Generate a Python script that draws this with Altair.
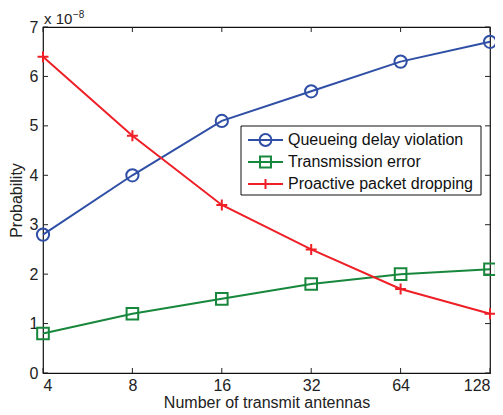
import altair as alt
import pandas as pd

antennas = [4, 8, 16, 32, 64, 128]
queue_delay = [2.8, 4.0, 5.1, 5.7, 6.3, 6.7]
trans_error = [0.8, 1.2, 1.5, 1.8, 2.0, 2.1]
proactive_drop = [6.4, 4.8, 3.4, 2.5, 1.7, 1.2]
series_names = ["Queueing delay violation", "Transmission error", "Proactive packet dropping"]
series_colors = ["#2F4FA6", "#17873C", "#EE1F26"]
y_ticks = [0, 1, 2, 3, 4, 5, 6, 7]

rows = []
for name, vals in zip(series_names, [queue_delay, trans_error, proactive_drop]):
    for a, v in zip(antennas, vals):
        rows.append({"Antennas": a, "Prob": v, "Series": name})
df = pd.DataFrame(rows)
legend_df = pd.DataFrame({"Series": series_names})

FONT = "Liberation Sans"
FS = 16
W, H = 447, 346
TOP = 19

xscale = alt.Scale(type="log", base=2, domain=[4, 128], nice=False)
yscale = alt.Scale(domain=[0, 7], nice=False)

plus = "M-1,0L1,0M0,-1L0,1"
shape_scale = alt.Scale(domain=series_names, range=["circle", "square", plus])
size_scale = alt.Scale(domain=series_names, range=[150, 120, 190])
color_scale = alt.Scale(domain=series_names, range=series_colors)

base = alt.Chart(df)

lines = base.mark_line(strokeWidth=2).encode(
    x=alt.X("Antennas:Q", scale=xscale,
            axis=alt.Axis(values=antennas, format="d", title="Number of transmit antennas",
                          tickSize=0, labelPadding=4, domain=False, grid=False,
                          labelFont=FONT, labelFontSize=FS, labelColor="#222",
                          titleFont=FONT, titleFontSize=FS, titleFontWeight="normal",
                          titleColor="#222", titlePadding=1)),
    y=alt.Y("Prob:Q", scale=yscale,
            axis=alt.Axis(values=y_ticks, title="Probability", tickSize=0, labelPadding=5,
                          domain=False, grid=False,
                          labelFont=FONT, labelFontSize=FS, labelColor="#222",
                          titleFont=FONT, titleFontSize=FS, titleFontWeight="normal",
                          titleColor="#222", titlePadding=5)),
    color=alt.Color("Series:N", scale=color_scale, legend=None),
)

points = base.mark_point(filled=False, strokeWidth=2, opacity=1).encode(
    x=alt.X("Antennas:Q", scale=xscale),
    y=alt.Y("Prob:Q", scale=yscale),
    color=alt.Color("Series:N", scale=color_scale, legend=None),
    shape=alt.Shape("Series:N", scale=shape_scale, legend=None),
    size=alt.Size("Series:N", scale=size_scale, legend=None),
)

xt = pd.DataFrame({"v": antennas})
yt = pd.DataFrame({"v": y_ticks})
tick_col = "#222"
xb = alt.Chart(xt).mark_rule(color=tick_col, strokeWidth=1).encode(
    x=alt.X("v:Q", scale=xscale), y=alt.value(H), y2=alt.value(H - 5))
xtop = alt.Chart(xt).mark_rule(color=tick_col, strokeWidth=1).encode(
    x=alt.X("v:Q", scale=xscale), y=alt.value(0), y2=alt.value(5))
yl = alt.Chart(yt).mark_rule(color=tick_col, strokeWidth=1).encode(
    y=alt.Y("v:Q", scale=yscale), x=alt.value(0), x2=alt.value(5))
yr = alt.Chart(yt).mark_rule(color=tick_col, strokeWidth=1).encode(
    y=alt.Y("v:Q", scale=yscale), x=alt.value(W), x2=alt.value(W - 5))

exp_df = pd.DataFrame({"t": ["x 10"], "s": ["\u22128"]})
exp_main = alt.Chart(exp_df).mark_text(align="left", baseline="alphabetic", font=FONT,
                                        fontSize=15, color="#222").encode(
    text="t:N", x=alt.value(1), y=alt.value(-3))
exp_sup = alt.Chart(exp_df).mark_text(align="left", baseline="alphabetic", font=FONT,
                                       fontSize=10, color="#222").encode(
    text="s:N", x=alt.value(30), y=alt.value(-9))

main = alt.layer(xb, xtop, yl, yr, lines, points, exp_main, exp_sup)

# legend box
leg_y = alt.Y("Series:N", scale=alt.Scale(type="point", domain=series_names,
                                           range=[113, 157], padding=0), axis=None)
leg_frame = alt.Chart(exp_df).mark_rect(fill="white", stroke="#111", strokeWidth=1).encode(
    x=alt.value(198), x2=alt.value(438), y=alt.value(99), y2=alt.value(168))
leg_line = alt.Chart(legend_df).mark_rule(strokeWidth=2).encode(
    x=alt.value(205), x2=alt.value(240), y=leg_y,
    color=alt.Color("Series:N", scale=color_scale, legend=None))
leg_pt = alt.Chart(legend_df).mark_point(filled=False, strokeWidth=2, opacity=1).encode(
    x=alt.value(222.5), y=leg_y,
    color=alt.Color("Series:N", scale=color_scale, legend=None),
    shape=alt.Shape("Series:N", scale=shape_scale, legend=None),
    size=alt.Size("Series:N", scale=alt.Scale(domain=series_names, range=[140, 100, 120]),
                  legend=None))
leg_txt = alt.Chart(legend_df).mark_text(align="left", baseline="middle", font=FONT,
                                         fontSize=FS, color="#111").encode(
    x=alt.value(245), y=leg_y, text="Series:N")
legend = alt.layer(leg_frame, leg_line, leg_pt, leg_txt).resolve_scale(size="independent")

chart = alt.layer(main, legend).resolve_scale(
    y="independent", size="independent", shape="independent"
).properties(
    width=W, height=H,
    autosize=alt.AutoSizeParams(type="none"),
    padding={"left": 35, "top": TOP, "right": 5, "bottom": 40},
).configure_view(stroke="#111", strokeWidth=1.2)

chart.save("out.html", embed_options={"renderer": "svg", "actions": False})
